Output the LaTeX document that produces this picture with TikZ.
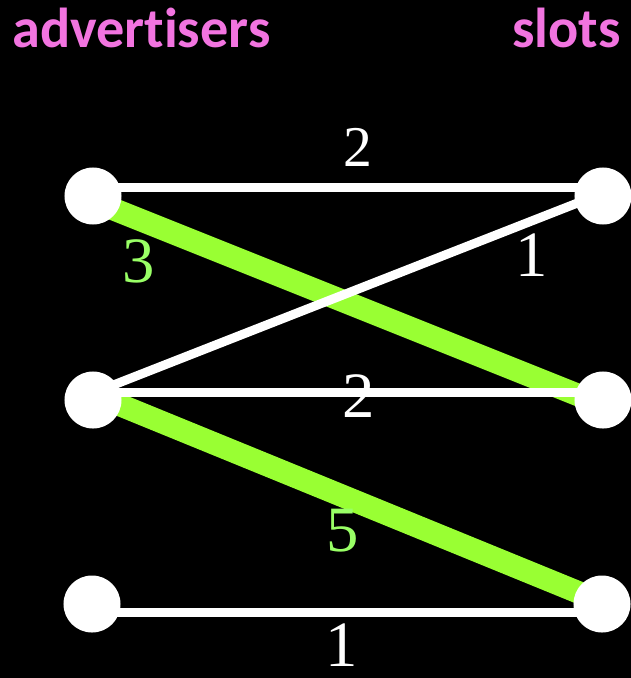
\documentclass[tikz,border=0pt]{standalone}
\usepackage{fontspec}
\usetikzlibrary{calc,backgrounds}
\setmainfont{Liberation Serif}
\newfontfamily\titlefont{Carlito}[Ligatures=NoCommon, Contextuals=NoAlternate]
\definecolor{titlepink}{HTML}{F274E0}
\definecolor{edgegreen}{HTML}{99FF33}
\definecolor{labelgreen}{HTML}{99FF66}

\begin{document}
\begin{tikzpicture}[x=0.025cm, y=-0.025cm,
	vertex/.style={circle, fill=white, inner sep=0pt, minimum size=1.425cm},
	plain/.style={draw=white, line width=6.4pt},
	matched/.style={draw=edgegreen, line width=16pt},
	weight/.style={text=white, inner sep=0pt, font=\rmfamily\fontsize{46}{46}\selectfont},
	title/.style={text=titlepink, inner sep=0pt, font=\titlefont\bfseries\fontsize{40}{42}\selectfont}]
	\useasboundingbox (0,0) rectangle (631,678);
	\node[title, anchor=base west] (adv) at (12,47) {advertisers};
	\node[title, anchor=base east] (slots) at (621,47) {slots};

	% Define the nodes with specific positions
	\node[vertex] (a1) at (93,196) {};
	\node[vertex] (a2) at (93,400) {};
	\node[vertex] (a3) at (92,604) {};
	\node[vertex] (s1) at (603,196) {};
	\node[vertex] (s2) at (603,400) {};
	\node[vertex] (s3) at (602,604) {};

	\begin{scope}[on background layer]
		\fill[black] (0,0) rectangle (631,678);
		% matched edges first, the others on top
		\draw[matched] ($(a1)+(0,5)$) -- node[weight, text=labelgreen, pos=0.09, below=0.23cm] (w3) {3} ($(s2)+(0,5)$);
		\draw[matched] ($(a2)+(0,-6)$) -- node[weight, text=labelgreen, pos=0.49, below=0.05cm] (w5) {5} ($(s3)+(0,-2)$);
		\draw[plain] ($(a1)+(0,-9)$) -- node[weight, pos=0.52, above=0.4cm, font=\rmfamily\fontsize{41}{41}\selectfont] (w2top) {2} ($(s1)+(0,-9)$);
		\draw[plain] ($(a2)+(0,-7)$) -- node[weight, pos=0.86, below=0.2cm] (w1top) {1} ($(s1)+(0,-3)$);
		\draw[plain] ($(a2)+(0,-8)$) -- node[weight, pos=0.52, yshift=-0.1cm] (w2mid) {2} ($(s2)+(0,-8)$);
		\draw[plain] ($(a3)+(0,8)$) -- node[weight, pos=0.49, below=0.17cm] (w1bot) {1} ($(s3)+(0,8)$);
	\end{scope}
\end{tikzpicture}
\end{document}
